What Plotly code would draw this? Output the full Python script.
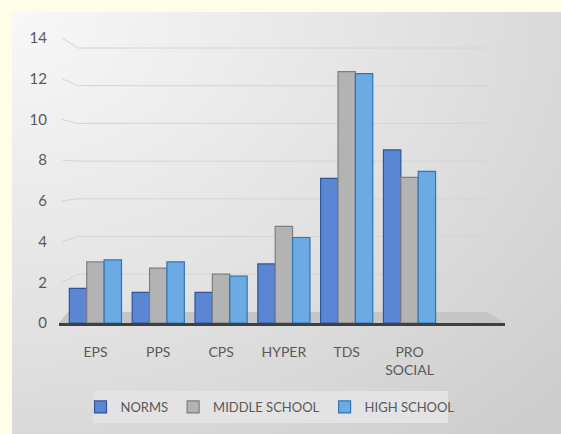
import base64
import plotly.graph_objects as go

categories = ["EPS", "PPS", "CPS", "HYPER", "TDS", "PRO<br>SOCIAL"]
series_names = ["NORMS", "MIDDLE SCHOOL", "HIGH SCHOOL"]
norms = [1.7, 1.5, 1.5, 2.9, 7.1, 8.5]
middle_school = [3.0, 2.7, 2.4, 4.75, 12.35, 7.15]
high_school = [3.1, 3.0, 2.3, 4.2, 12.25, 7.45]
y_ticks = [0, 2, 4, 6, 8, 10, 12, 14]

fills = ["#5A86D4", "#B3B3B3", "#6BAAE2"]
edges = ["#2F5597", "#7F7F7F", "#2E75B6"]

W, H = 561, 434
L, R, T, B = 59, 56, 38, 111
pw, ph = W - L - R, H - T - B

def px_x(x):
    return (x - L) / pw

def px_y(y):
    return (H - B - y) / ph

# back-wall gridline calibration (pixel rows of the 0 and 14 wall lines)
WALL0, WALL14 = 312, 48
FRONT0, FRONT14 = 323, 38

def wall_y(t):
    return WALL0 + (WALL14 - WALL0) * t / 14

def front_y(t):
    return FRONT0 + (FRONT14 - FRONT0) * t / 14

svg = (
    '<svg xmlns="http://www.w3.org/2000/svg" width="549" height="422">'
    '<defs><radialGradient id="g" cx="0" cy="0" r="1.35" gradientUnits="objectBoundingBox">'
    '<stop offset="0" stop-color="#F8F8F8"/><stop offset="0.55" stop-color="#E2E2E2"/>'
    '<stop offset="1" stop-color="#CDCDCD"/></radialGradient></defs>'
    '<rect width="549" height="422" fill="url(#g)"/></svg>'
)
src = "data:image/svg+xml;base64," + base64.b64encode(svg.encode()).decode()

shapes = [
    dict(type="path", xref="paper", yref="paper", layer="below",
         path=f"M {px_x(59)} {px_y(323)} L {px_x(68)} {px_y(312)} L {px_x(487)} {px_y(312)} L {px_x(505)} {px_y(323)} Z",
         fillcolor="#C6C6C6", line=dict(width=0)),
    dict(type="rect", xref="paper", yref="paper", layer="below",
         x0=px_x(93), x1=px_x(448), y0=px_y(423), y1=px_y(391),
         fillcolor="#E3E3E3", line=dict(width=0)),
]
for t in y_ticks[1:]:
    shapes.append(dict(type="line", xref="paper", yref="paper", layer="below",
                       x0=px_x(78), x1=px_x(487), y0=px_y(wall_y(t)), y1=px_y(wall_y(t)),
                       line=dict(color="#D4D4D4", width=1)))
    shapes.append(dict(type="line", xref="paper", yref="paper", layer="below",
                       x0=px_x(62), x1=px_x(78), y0=px_y(front_y(t)), y1=px_y(wall_y(t)),
                       line=dict(color="#D4D4D4", width=1)))

fig = go.Figure()
for name, vals, fc, ec in zip(series_names, [norms, middle_school, high_school], fills, edges):
    fig.add_trace(go.Bar(
        x=categories, y=vals, name=name,
        marker=dict(color=fc, line=dict(color=ec, width=1.2)),
    ))

fig.update_layout(
    width=W, height=H,
    margin=dict(l=L, r=R, t=T, b=B),
    paper_bgcolor="#FFFDE9",
    plot_bgcolor="rgba(0,0,0,0)",
    barmode="group", bargap=0.17, bargroupgap=0,
    font=dict(family="Lato, 'Open Sans', sans-serif", size=14, color="#595959"),
    images=[dict(
        source=src, xref="paper", yref="paper",
        x=px_x(12), y=px_y(12), sizex=px_x(561) - px_x(12), sizey=px_y(12) - px_y(434),
        xanchor="left", yanchor="top", sizing="stretch", layer="below",
    )],
    shapes=shapes,
    legend=dict(
        orientation="h", x=px_x(270), xanchor="center", y=px_y(407), yanchor="middle",
        bgcolor="rgba(0,0,0,0)", font=dict(size=13, color="#595959"),
        itemwidth=30, tracegroupgap=0,
    ),
    xaxis=dict(
        range=[-0.58, 6.52], showgrid=False, showline=True, linecolor="#404040", linewidth=2.5,
        ticks="outside", ticklen=14, tickcolor="rgba(0,0,0,0)", tickfont=dict(size=14),
        fixedrange=True,
    ),
    yaxis=dict(
        range=[0, 14], tickvals=y_ticks, showgrid=False,
        zeroline=False, showline=False, ticks="outside", ticklen=8, tickcolor="rgba(0,0,0,0)",
        tickfont=dict(size=15),
    ),
)

fig.write_html("out.html")
